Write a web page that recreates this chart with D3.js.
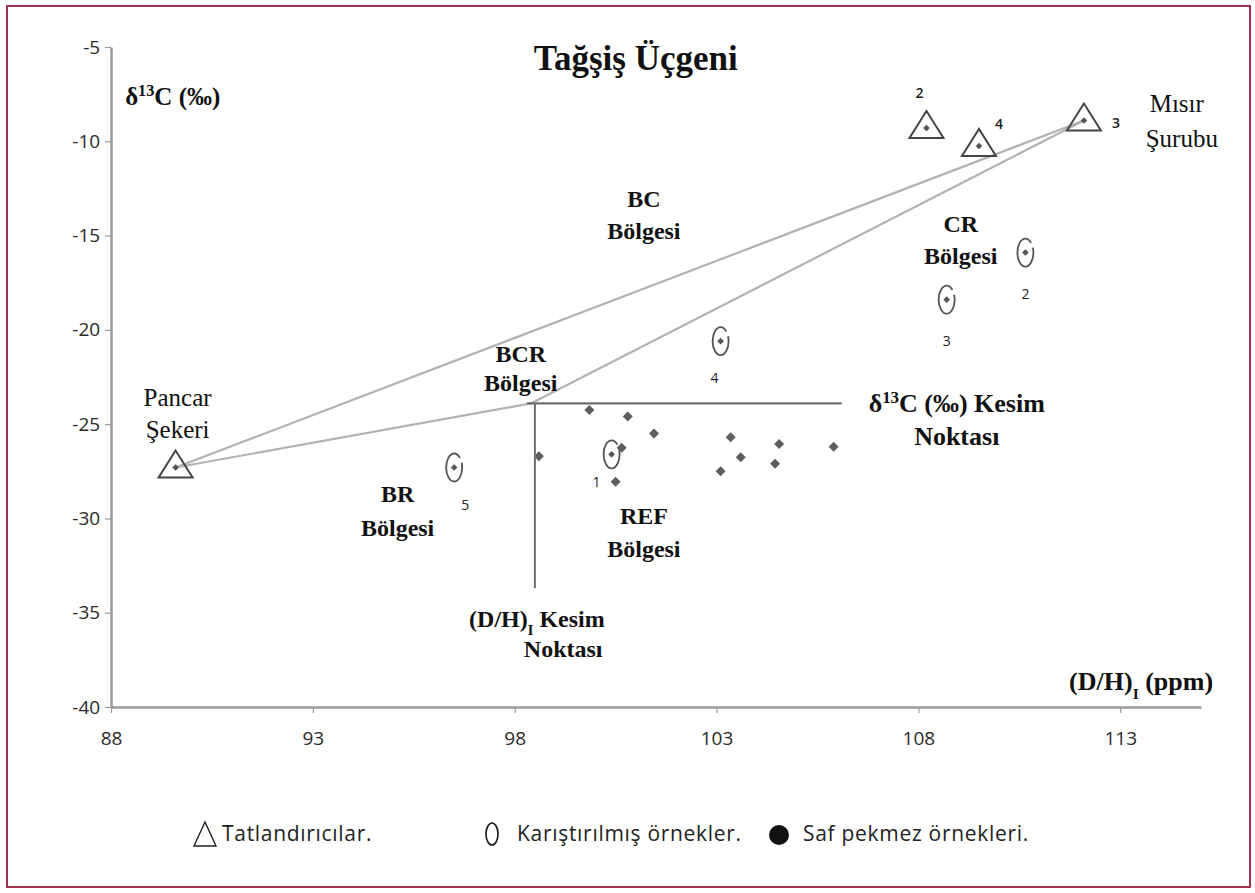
<!DOCTYPE html>
<html><head><meta charset="utf-8">
<script src="https://cdn.jsdelivr.net/npm/d3@7"></script>
<style>body{margin:0;background:#fff} svg{display:block}</style>
</head><body>
<svg id="chart" width="1255" height="893"></svg>
<script>
// Adulteration triangle: δ13C (‰) against (D/H)I (ppm)
const xTicks = [88, 93, 98, 103, 108, 113];
const yTicks = [-5, -10, -15, -20, -25, -30, -35, -40];

// Sweeteners (triangles): beet sugar, samples 2 and 4, corn syrup (3)
const sweetenerX = [89.6, 108.2, 109.5, 112.1];
const sweetenerY = [-27.3, -9.3, -10.25, -8.9];
const sweetenerLabels = ["", "2", "4", "3"];

// Mixed samples (ellipses)
const mixedX = [100.4, 110.65, 108.7, 103.1, 96.5];
const mixedY = [-26.6, -15.9, -18.4, -20.6, -27.3];
const mixedLabels = ["1", "2", "3", "4", "5"];

// Pure molasses samples
const pureX = [98.6, 99.85, 100.8, 101.45, 100.65, 100.5, 103.35, 103.6, 103.1, 104.55, 104.45, 105.9];
const pureY = [-26.7, -24.25, -24.6, -25.5, -26.25, -28.05, -25.7, -26.75, -27.5, -26.05, -27.1, -26.2];

// Cut-off values and the lower triangle vertex
const cutDH = 98.5;
const cutC = -23.9;
const bcrVertex = [98.4, -23.9];

const svg = d3.select("#chart");

const x = d3.scaleLinear().domain([88, 115]).range([111, 1201]);
const y = d3.scaleLinear().domain([-40, -5]).range([707, 47]);

// frame
svg.append("rect").attr("x", 7).attr("y", 6).attr("width", 1243).attr("height", 881)
  .attr("fill", "#fff").attr("stroke", "#a3324f").attr("stroke-width", 2);

const sans = "'Open Sans', 'Noto Sans', sans-serif";
const serif = "'Liberation Serif', 'DejaVu Serif', serif";

// axes
const xAxis = d3.axisBottom(x).tickValues(xTicks).tickFormat(d => String(d)).tickSize(6).tickSizeOuter(0);
const gx = svg.append("g").attr("transform", `translate(0,${y(-40)})`).call(xAxis);
gx.select(".domain").attr("stroke", "#9a9a9a").attr("stroke-width", 2.5);
gx.selectAll(".tick line").attr("stroke", "#9a9a9a").attr("stroke-width", 1.2);
gx.selectAll(".tick text").attr("font-family", sans).attr("font-size", 19).attr("fill", "#2a2a2a").attr("dy", "1.5em");

const yAxis = d3.axisLeft(y).tickValues(yTicks).tickFormat(d => String(d)).tickSize(6).tickSizeOuter(0);
const gy = svg.append("g").attr("transform", `translate(${x(88)},0)`).call(yAxis);
gy.select(".domain").attr("stroke", "#9a9a9a").attr("stroke-width", 2.5);
gy.selectAll(".tick line").attr("stroke", "#9a9a9a").attr("stroke-width", 1.2);
gy.selectAll(".tick text").attr("font-family", sans).attr("font-size", 19).attr("fill", "#2a2a2a").attr("dx", "-0.1em");

// triangle edges
const beet = [sweetenerX[0], sweetenerY[0]];
const corn = [sweetenerX[3], sweetenerY[3]];
const edge = g => svg.append("line")
  .attr("x1", x(g[0][0])).attr("y1", y(g[0][1]))
  .attr("x2", x(g[1][0])).attr("y2", y(g[1][1]))
  .attr("stroke", "#b3b3b3").attr("stroke-width", 2.2);
edge([beet, corn]);
edge([beet, bcrVertex]);
edge([bcrVertex, corn]);

// pure samples (square diamonds)
svg.append("g").selectAll("path").data(pureX.map((v, i) => [v, pureY[i]])).join("path")
  .attr("d", d3.symbol(d3.symbolSquare, 50))
  .attr("transform", d => `translate(${x(d[0])},${y(d[1])}) rotate(45)`)
  .attr("fill", "#5e5e5e");

// cut-off lines
svg.append("line").attr("x1", x(98.3)).attr("x2", x(106.1)).attr("y1", y(cutC)).attr("y2", y(cutC))
  .attr("stroke", "#6f6f6f").attr("stroke-width", 2.2);
svg.append("line").attr("x1", x(cutDH)).attr("x2", x(cutDH)).attr("y1", y(cutC)).attr("y2", y(-33.7))
  .attr("stroke", "#6f6f6f").attr("stroke-width", 2);

// sweeteners (triangles with centre dot)
const sw = svg.append("g").selectAll("g").data(sweetenerX.map((v, i) => [v, sweetenerY[i], sweetenerLabels[i]])).join("g")
  .attr("transform", d => `translate(${x(d[0])},${y(d[1])})`);
sw.append("path").attr("d", "M0,-17L-17,10L17,10Z")
  .attr("fill", "none").attr("stroke", "#444").attr("stroke-width", 2);
sw.append("path").attr("d", d3.symbol(d3.symbolSquare, 22)).attr("transform", "rotate(45)").attr("fill", "#555");
const swOffset = [[0, 0], [-7, -30], [20, -17], [32, 7]];
sw.append("text").text(d => d[2])
  .attr("x", (d, i) => swOffset[i][0]).attr("y", (d, i) => swOffset[i][1])
  .attr("text-anchor", "middle").attr("font-family", sans).attr("font-size", 14).attr("font-weight", 600).attr("fill", "#222");

// mixed samples (ellipses with centre dot)
const mx = svg.append("g").selectAll("g").data(mixedX.map((v, i) => [v, mixedY[i], mixedLabels[i]])).join("g")
  .attr("transform", d => `translate(${x(d[0])},${y(d[1])})`);
mx.append("ellipse").attr("rx", 8).attr("ry", 14)
  .attr("fill", "none").attr("stroke", "#555").attr("stroke-width", 1.8).attr("stroke-dasharray", "60,5,6,5");
mx.append("path").attr("d", d3.symbol(d3.symbolSquare, 22)).attr("transform", "rotate(45)").attr("fill", "#555");
const mxOffset = [[-15, 33], [0, 46], [0, 46], [-6, 42], [11, 42]];
mx.append("text").text(d => d[2])
  .attr("x", (d, i) => mxOffset[i][0]).attr("y", (d, i) => mxOffset[i][1])
  .attr("text-anchor", "middle").attr("font-family", sans).attr("font-size", 14).attr("fill", "#222");

// annotations (anchored in data units)
function label(lines, ax, ay, opts = {}) {
  const t = svg.append("text")
    .attr("x", x(ax)).attr("y", y(ay))
    .attr("text-anchor", opts.anchor || "middle")
    .attr("font-family", serif).attr("font-size", opts.size || 24)
    .attr("font-weight", opts.weight || "bold").attr("fill", "#111");
  lines.forEach((l, i) => {
    const s = t.append("tspan").attr("x", x(ax) + (opts.shift && i ? opts.shift : 0)).attr("dy", i ? (opts.lh || 32) : 0);
    if (typeof l === "string") s.text(l); else l(s);
  });
  return t;
}

// δ13C with superscript
const delta = s => { s.text("δ"); s.append("tspan").attr("baseline-shift", "super").attr("font-size", "65%").text("13"); s.append("tspan").text("C (‰)"); };

label(["BC", "Bölgesi"], 101.2, -13.5);
label(["CR", "Bölgesi"], 109.05, -14.8);
label(["BCR", "Bölgesi"], 98.15, -21.7, { lh: 29 });
label(["Pancar", "Şekeri"], 89.65, -24.05, { weight: "normal", size: 25 });
label(["BR", "Bölgesi"], 95.1, -29.15, { lh: 34 });
label(["REF", "Bölgesi"], 101.2, -30.3, { lh: 33 });
label(["Mısır", "Şurubu"], 114.4, -8.45, { weight: "normal", size: 25, shift: 5, lh: 35 });

// δ13C cut-off label
label([s => { delta(s); s.append("tspan").text(" Kesim"); }, "Noktası"], 108.95, -24.35, { size: 26, lh: 33 });

// (D/H)I cut-off label
const dhCut = svg.append("text").attr("x", x(98.55)).attr("y", y(-35.75)).attr("text-anchor", "middle")
  .attr("font-family", serif).attr("font-size", 24).attr("font-weight", "bold").attr("fill", "#111");
dhCut.append("tspan").text("(D/H)");
dhCut.append("tspan").attr("baseline-shift", "sub").attr("font-size", "60%").text("I");
dhCut.append("tspan").text(" Kesim");
svg.append("text").attr("x", x(99.2)).attr("y", y(-37.35)).attr("text-anchor", "middle")
  .attr("font-family", serif).attr("font-size", 24).attr("font-weight", "bold").attr("fill", "#111").text("Noktası");

// title
svg.append("text").attr("x", x(101.0)).attr("y", y(-6.2)).attr("text-anchor", "middle")
  .attr("font-family", serif).attr("font-size", 35).attr("font-weight", "bold").attr("fill", "#111").text("Tağşiş Üçgeni");

// axis titles
const yt = svg.append("text").attr("x", x(88.35)).attr("y", y(-8.1))
  .attr("font-family", serif).attr("font-size", 25).attr("font-weight", "bold").attr("fill", "#111");
delta(yt);

const xt = svg.append("text").attr("x", x(115.3)).attr("y", y(-39.1)).attr("text-anchor", "end")
  .attr("font-family", serif).attr("font-size", 26).attr("font-weight", "bold").attr("fill", "#111");
xt.append("tspan").text("(D/H)");
xt.append("tspan").attr("baseline-shift", "sub").attr("font-size", "60%").text("I");
xt.append("tspan").text(" (ppm)");

// legend
const lg = svg.append("g").attr("font-family", sans).attr("font-size", 21).attr("letter-spacing", 0.7).attr("fill", "#222");
lg.append("path").attr("d", "M205,822L194,846L216,846Z").attr("fill", "none").attr("stroke", "#222").attr("stroke-width", 1.4);
lg.append("text").attr("x", 222).attr("y", 841).text("Tatlandırıcılar.");
lg.append("ellipse").attr("cx", 492).attr("cy", 834).attr("rx", 6).attr("ry", 11).attr("fill", "none").attr("stroke", "#222").attr("stroke-width", 1.7);
lg.append("text").attr("x", 517).attr("y", 841).text("Karıştırılmış örnekler.");
lg.append("circle").attr("cx", 779).attr("cy", 835).attr("r", 10).attr("fill", "#111");
lg.append("text").attr("x", 803).attr("y", 841).text("Saf pekmez örnekleri.");
</script>
</body></html>
